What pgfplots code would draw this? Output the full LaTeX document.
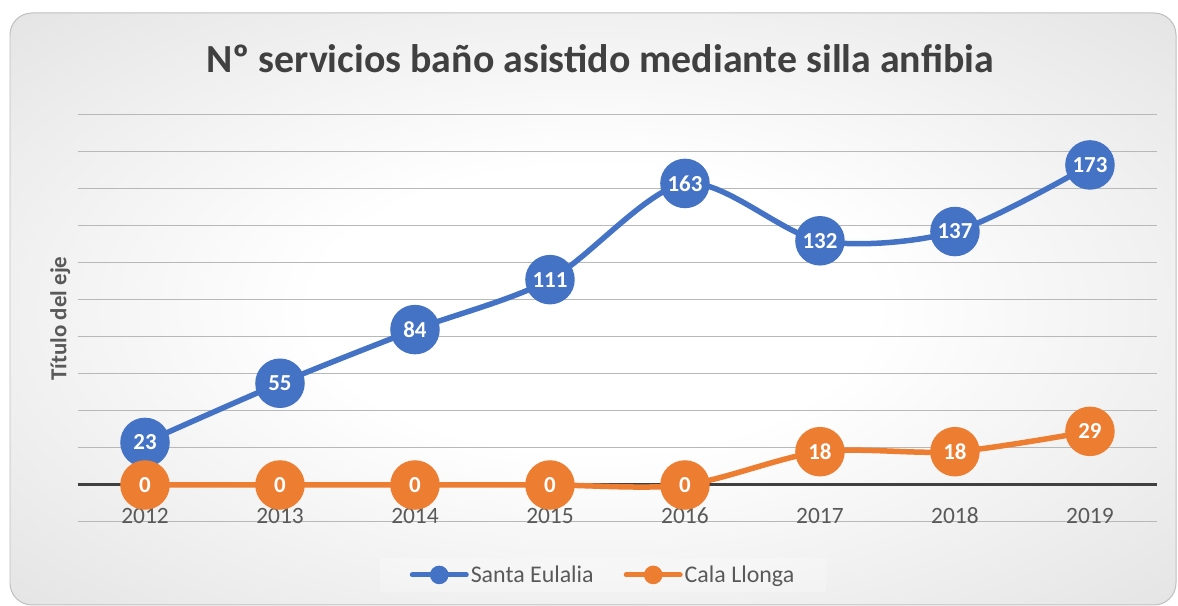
\documentclass[border=0pt]{standalone}
\usepackage{pgfplots}
\pgfplotsset{compat=1.18}
\usepackage{fontspec}
\setmainfont{Carlito}
\definecolor{sblue}{HTML}{4472C4}
\definecolor{sorange}{HTML}{ED7D31}
\definecolor{txt}{HTML}{595959}
\definecolor{ttl}{HTML}{404040}
\pgfdeclareradialshading{bgshade}{\pgfpoint{0bp}{0bp}}{color(0bp)=(white); color(12bp)=(white); color(50bp)=(black!17); color(72bp)=(black!27)}
\begin{document}
\begin{tikzpicture}[x=1bp,y=1bp]
\useasboundingbox (0,0) rectangle (1178,606);
\begin{scope}
\clip (0,0) rectangle (1178,606);
\path[shading=bgshade, rounded corners=22] (10,1) rectangle (1176,593);
\draw[black!25, line width=1, rounded corners=22] (10,1) rectangle (1176,593);
\end{scope}
\node[font=\bfseries\fontsize{40}{44}\selectfont, text=ttl] at (600,547) {Nº servicios baño asistido mediante silla anfibia};
\begin{axis}[
 at={(77.5bp,84bp)}, anchor=south west, scale only axis, width=1080bp, height=407bp,
 /pgf/number format/assume math mode=true,
 xmin=-0.5, xmax=7.5, ymin=-20, ymax=200,
 xtick={0,...,7}, xticklabels={2012,2013,2014,2015,2016,2017,2018,2019},
 xticklabel style={anchor=base, yshift=-2bp, text=txt, font=\fontsize{23.5}{26}\selectfont},
 ytick={-20,0,...,200}, yticklabels={},
 ymajorgrids, major grid style={black!28, line width=1bp},
 axis line style={draw=none}, major tick length=0pt,
 extra y ticks={0}, extra y tick labels={}, extra y tick style={major grid style={ttl, line width=3bp}},
 ylabel={Título del eje},
 ylabel style={at={(axis description cs:-0.016,0.5)}, anchor=center, text=txt, font=\bfseries\fontsize{23}{26}\selectfont},
 legend columns=2,
 legend style={at={(axis description cs:0.4866,-0.130)}, anchor=center, draw=none, fill=white, fill opacity=0.25, text opacity=1, inner xsep=30bp, inner ysep=6bp, font=\fontsize{24}{26}\selectfont, text=txt, nodes={inner sep=2bp}, /tikz/every even column/.append style={column sep=28bp}},
 nodes near coords={\pgfmathprintnumber[assume math mode=true]{\pgfplotspointmeta}},
 every node near coord/.append style={anchor=center, text=white, font=\bfseries\fontsize{23}{26}\selectfont},
]
\addplot[sblue, line width=5.5bp, smooth, mark=*, mark size=22bp, mark options={solid, fill=sblue, draw=none},
 legend image code/.code={\draw[sblue, line width=5bp, line cap=round] (0bp,0bp) -- (54bp,0bp); \fill[sblue, fill opacity=1] (27bp,0bp) circle (6.5bp);}]
 coordinates {(0,23)(1,55)(2,84)(3,111)(4,163)(5,132)(6,137)(7,173)};
\addlegendentry{Santa Eulalia}
\addplot[sorange, line width=5.5bp, smooth, mark=*, mark size=22bp, mark options={solid, fill=sorange, draw=none},
 legend image code/.code={\draw[sorange, line width=5bp, line cap=round] (0bp,0bp) -- (54bp,0bp); \fill[sorange, fill opacity=1] (27bp,0bp) circle (6.5bp);}]
 coordinates {(0,0)(1,0)(2,0)(3,0)(4,0)(5,18)(6,18)(7,29)};
\addlegendentry{Cala Llonga}
\end{axis}
\end{tikzpicture}
\end{document}
